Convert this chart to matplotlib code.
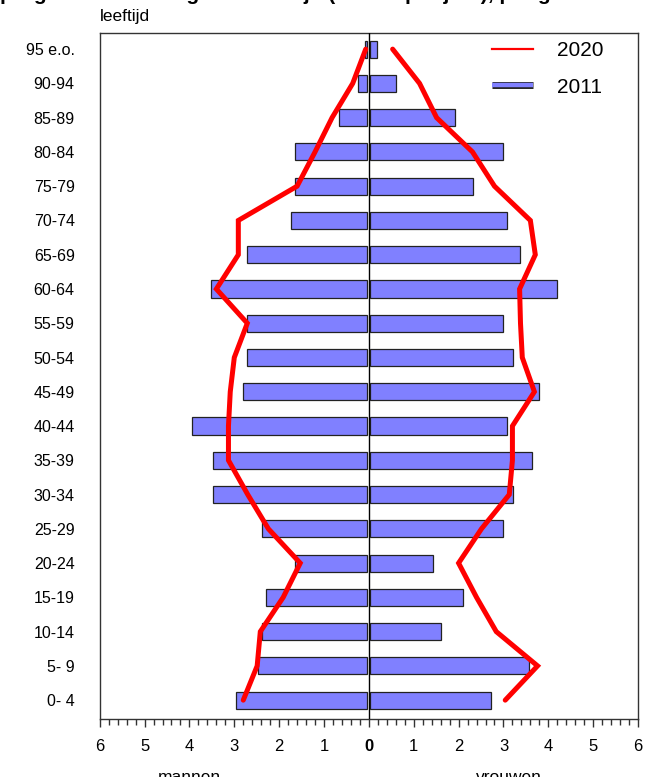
import numpy as np
import matplotlib
matplotlib.use("Agg")
import matplotlib.pyplot as plt
from matplotlib.lines import Line2D
from matplotlib.ticker import FixedLocator, MultipleLocator, FuncFormatter
import matplotlib.patheffects as pe

plt.rcParams['font.family'] = ['Liberation Sans', 'DejaVu Sans']

# leeftijdsklassen, van jong naar oud
leeftijd = ["0- 4", "5- 9", "10-14", "15-19", "20-24", "25-29", "30-34", "35-39",
            "40-44", "45-49", "50-54", "55-59", "60-64", "65-69", "70-74",
            "75-79", "80-84", "85-89", "90-94", "95 e.o."]

# 2011 (staven), x 1000
mannen_2011 = [2.96, 2.47, 2.38, 2.30, 1.64, 2.38, 3.47, 3.47, 3.95, 2.80,
               2.71, 2.71, 3.53, 2.71, 1.73, 1.64, 1.64, 0.67, 0.25, 0.09]
vrouwen_2011 = [2.73, 3.58, 1.60, 2.09, 1.42, 2.98, 3.22, 3.64, 3.07, 3.80,
                3.22, 2.98, 4.20, 3.38, 3.07, 2.33, 2.98, 1.91, 0.60, 0.18]

# prognose 2020 (lijn)
mannen_2020 = [2.80, 2.49, 2.42, 1.91, 1.53, 2.24, 2.70, 3.13, 3.13, 3.09,
               3.00, 2.71, 3.40, 2.91, 2.91, 1.60, 1.20, 0.82, 0.36, 0.07]
vrouwen_2020 = [3.04, 3.76, 2.84, 2.40, 2.00, 2.51, 3.13, 3.20, 3.20, 3.69,
                3.42, 3.38, 3.36, 3.71, 3.60, 2.80, 2.31, 1.51, 1.13, 0.53]

y = np.arange(len(leeftijd))
m11 = np.array(mannen_2011)
v11 = np.array(vrouwen_2011)

fig = plt.figure(figsize=(6.56, 7.77), dpi=100)
ax = fig.add_axes([0.152, 0.0751, 0.8206, 0.8824])

balk = '#8080ff'
rand = '#222222'
ax.barh(y, -(m11 - 0.04), left=-0.04, height=0.5, color=balk,
        edgecolor=rand, linewidth=0.9, zorder=2)
ax.barh(y, v11 - 0.02, left=0.02, height=0.5, color=balk,
        edgecolor=rand, linewidth=0.9, zorder=2)

ax.plot(-np.array(mannen_2020), y, color='#ff0000', lw=3.6,
        solid_joinstyle='miter', solid_capstyle='round', zorder=3)
ax.plot(vrouwen_2020, y, color='#ff0000', lw=3.6,
        solid_joinstyle='miter', solid_capstyle='round', zorder=3)

ax.axvline(0, color='black', lw=1.0, zorder=4)

ax.set_xlim(-6, 6)
ax.set_ylim(-0.54, 19.47)

ax.xaxis.set_major_locator(MultipleLocator(1))
ax.xaxis.set_minor_locator(MultipleLocator(0.2))
ax.xaxis.set_major_formatter(FuncFormatter(lambda v, p: f"{abs(v):.0f}"))
ax.tick_params(axis='x', which='major', length=5.8, width=1, labelsize=12, pad=9,
               color='#333333')
ax.tick_params(axis='x', which='minor', length=4, width=1, color='#333333')
for lab in ax.get_xticklabels():
    if lab.get_text() == '0':
        lab.set_fontweight('bold')

ax.yaxis.set_major_locator(FixedLocator(y))
ax.set_yticklabels(leeftijd)
ax.tick_params(axis='y', length=0, labelsize=11.5, pad=18)

for s in ax.spines.values():
    s.set_color('#333333')
    s.set_linewidth(1.0)

# legenda
h2020 = Line2D([], [], color='#ff0000', lw=1.6)
h2011 = Line2D([], [], color=balk, lw=3.2, solid_capstyle='butt',
               path_effects=[pe.Stroke(linewidth=5.0, foreground=rand),
                             pe.Normal()])
ax.legend([h2020, h2011], ['2020', '2011'], loc='upper left',
          bbox_to_anchor=(0.729, 0.988), frameon=False, fontsize=15,
          handlelength=1.95, handletextpad=1.15, labelspacing=0.83,
          borderpad=0, borderaxespad=0)

fig.text(0.152, 1 - 17 / 777, "leeftijd", fontsize=12.5, va='center', ha='left')
fig.text(189 / 656, -0.006, "mannen", fontsize=12.5, ha='center', va='baseline')
fig.text(509 / 656, -0.006, "vrouwen", fontsize=12.5, ha='center', va='baseline')

fig.text(0.0, 1.0,
         "prognose bevolking naar leeftijd (x 1000 per jaar), per geslacht",
         fontsize=15, fontweight='bold', ha='left', va='baseline')

fig.savefig("out.png", dpi=100)
